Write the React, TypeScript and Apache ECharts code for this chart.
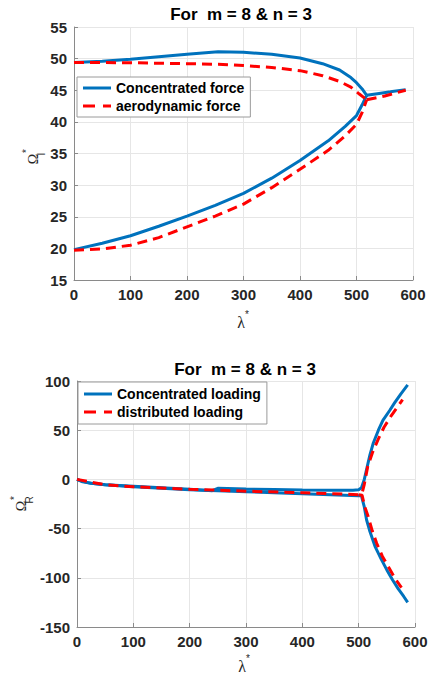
import React, { useEffect, useRef } from "react";
import * as echarts from "echarts";

// ---------- data (top chart: imaginary part) ----------
const topTitle = "For  m = 8 & n = 3";
const bottomTitle = "For  m = 8 & n = 3";
const topLegend = ["Concentrated force", "aerodynamic force"];
const bottomLegend = ["Concentrated loading", "distributed loading"];

const concUpper: [number, number][] = [
  [0, 49.4], [50, 49.6], [100, 49.9], [150, 50.3], [200, 50.7], [255, 51.1],
  [300, 51.0], [350, 50.7], [400, 50.1], [440, 49.2], [470, 48.2], [490, 47.0],
  [500, 46.2], [510, 45.2], [518, 44.2],
];
const concLower: [number, number][] = [
  [0, 19.8], [50, 20.8], [100, 22.0], [150, 23.5], [200, 25.1], [250, 26.8],
  [300, 28.7], [350, 31.1], [400, 33.9], [450, 37.0], [480, 39.3], [500, 41.0],
  [510, 42.7], [518, 44.2],
];
const concMerged: [number, number][] = [
  [518, 44.2], [540, 44.5], [560, 44.75], [587, 45.1],
];
const aeroUpper: [number, number][] = [
  [0, 49.4], [100, 49.35], [200, 49.2], [255, 49.1], [300, 48.9], [350, 48.6],
  [400, 48.1], [440, 47.3], [470, 46.4], [490, 45.5], [505, 44.4], [518, 43.5],
];
const aeroLower: [number, number][] = [
  [0, 19.7], [50, 19.9], [100, 20.5], [150, 21.7], [200, 23.4], [250, 25.1],
  [300, 27.0], [350, 29.6], [400, 32.5], [450, 35.5], [480, 37.8], [500, 39.6],
  [510, 41.5], [518, 43.5],
];
const aeroMerged: [number, number][] = [
  [518, 43.5], [550, 44.1], [587, 45.0],
];

// ---------- data (bottom chart: real part) ----------
const concBranchA: [number, number][] = [
  [0, 0], [10, -2], [25, -4], [50, -5.5], [100, -7], [150, -8.5], [200, -10],
  [240, -11.5], [250, -9], [300, -9.8], [350, -10.3], [400, -10.8], [450, -11],
  [490, -11], [500, -10.5], [505, -8.5], [510, 0], [514, 10], [520, 25],
  [526, 37], [535, 50], [543, 60], [555, 70], [564, 78], [575, 87], [587, 96],
];
const concBranchB: [number, number][] = [
  [0, 0], [10, -2.5], [25, -4], [50, -5.5], [100, -7.5], [150, -9], [200, -10.5],
  [250, -11.5], [300, -12.5], [350, -13.5], [400, -14.5], [450, -15.5],
  [500, -16.5], [505, -17], [510, -28], [514, -41], [520, -53], [529, -68],
  [540, -81], [550, -92], [560, -102], [570, -111], [580, -119], [587, -125],
];
const distBranchA: [number, number][] = [
  [0, 0], [50, -5.5], [100, -7.5], [200, -10], [250, -11], [300, -12],
  [400, -13.5], [500, -15.5], [506, -14], [510, -5], [516, 13], [525, 28],
  [534, 40], [545, 53], [557, 64], [568, 73], [578, 81],
];
const distBranchB: [number, number][] = [
  [500, -15.5], [506, -16], [511, -28], [517, -38], [524, -52], [532, -65],
  [542, -78], [553, -89], [565, -101], [576, -110],
];

const xTicks = { min: 0, max: 600, interval: 100 };
const yTopTicks = { min: 15, max: 55, interval: 5 };
const yBottomTicks = { min: -150, max: 100, interval: 50 };

const BLUE = "#0072BD";
const RED = "#FF0000";
const SANS = "Liberation Sans, Arial, sans-serif";
const SERIF = "Liberation Serif, DejaVu Serif, serif";
const SOLID_ICON = "path://M0 0h28v3h-28z";
const DASH_ICON = "path://M0 0h12v3h-12zM20 0h8v3h-8z";

function App() {
  const ref = useRef<HTMLDivElement>(null);
  useEffect(() => {
    if (!ref.current) return;
    const chart = echarts.init(ref.current, null, { renderer: "svg" });

    const axisLabel = {
      fontFamily: SANS,
      fontWeight: "bold" as const,
      fontSize: 15,
      color: "#262626",
    };
    const splitLine = { show: true, lineStyle: { color: "#e6e6e6", width: 1 } };
    const axisLine = { show: true, onZero: false, lineStyle: { color: "#8a8a8a", width: 1 } };
    const axisTick = { show: true, inside: true, length: 4, lineStyle: { color: "#8a8a8a" } };

    const xAxisBase = {
      type: "value" as const,
      ...xTicks,
      axisLabel: { ...axisLabel, margin: 7 },
      splitLine,
      axisLine,
      axisTick,
    };
    const yAxisBase = {
      type: "value" as const,
      axisLabel: { ...axisLabel, margin: 7 },
      splitLine,
      axisLine,
      axisTick,
    };

    const solid = (name: string, data: [number, number][], xi: number) => ({
      type: "line" as const,
      name,
      data,
      xAxisIndex: xi,
      yAxisIndex: xi,
      showSymbol: false,
      symbol: "none",
      lineStyle: { color: BLUE, width: 3 },
      itemStyle: { color: BLUE },
      z: 2,
    });
    const dashed = (name: string, data: [number, number][], xi: number) => ({
      type: "line" as const,
      name,
      data,
      xAxisIndex: xi,
      yAxisIndex: xi,
      showSymbol: false,
      symbol: "none",
      lineStyle: { color: RED, width: 3, type: [10, 6] },
      itemStyle: { color: RED },
      z: 3,
    });

    const legendBase = {
      orient: "vertical" as const,
      itemWidth: 28,
      itemHeight: 3,
      itemGap: 4,
      backgroundColor: "#ffffff",
      borderColor: "#9a9a9a",
      borderWidth: 1,
      borderRadius: 0,
      textStyle: {
        fontFamily: SANS,
        fontWeight: "bold" as const,
        fontSize: 14,
        color: "#000",
        lineHeight: 14,
      },
      selectedMode: false,
    };

    const txt = (
      text: string,
      x: number,
      y: number,
      font: string,
      rotation = 0,
      fill = "#262626"
    ) => ({
      type: "text" as const,
      x,
      y,
      rotation,
      silent: true,
      style: { text, font, fill, textAlign: "center", textVerticalAlign: "middle" },
    });

    chart.setOption({
      animation: false,
      backgroundColor: "#ffffff",
      grid: [
        { left: 74, top: 27, width: 339, height: 253 },
        { left: 77, top: 381, width: 338, height: 246 },
      ],
      xAxis: [
        { ...xAxisBase, gridIndex: 0 },
        { ...xAxisBase, gridIndex: 1 },
      ],
      yAxis: [
        { ...yAxisBase, ...yTopTicks, gridIndex: 0 },
        { ...yAxisBase, ...yBottomTicks, gridIndex: 1 },
      ],
      legend: [
        {
          ...legendBase,
          data: [
            { name: topLegend[0], icon: SOLID_ICON },
            { name: topLegend[1], icon: DASH_ICON },
          ],
          left: 77,
          top: 77,
          padding: [4, 6, 4, 6],
        },
        {
          ...legendBase,
          data: [
            { name: bottomLegend[0], icon: SOLID_ICON },
            { name: bottomLegend[1], icon: DASH_ICON },
          ],
          left: 78,
          top: 382,
          padding: [5, 6, 5, 6],
        },
      ],
      series: [
        solid(topLegend[0], concUpper, 0),
        solid(topLegend[0], concLower, 0),
        solid(topLegend[0], concMerged, 0),
        dashed(topLegend[1], aeroUpper, 0),
        dashed(topLegend[1], aeroLower, 0),
        dashed(topLegend[1], aeroMerged, 0),
        solid(bottomLegend[0], concBranchA, 1),
        solid(bottomLegend[0], concBranchB, 1),
        dashed(bottomLegend[1], distBranchA, 1),
        dashed(bottomLegend[1], distBranchB, 1),
      ],
      graphic: [
        txt(topTitle, 241, 14, `bold 17px ${SANS}`, 0, "#000"),
        txt(bottomTitle, 245, 369, `bold 17px ${SANS}`, 0, "#000"),
        // x axis names
        txt("λ", 241, 322, `16px ${SERIF}`),
        txt("*", 247, 314, `10px ${SANS}`),
        txt("λ", 242, 666, `16px ${SERIF}`),
        txt("*", 248, 658, `10px ${SANS}`),
        // y axis names (rotated)
        txt("Ω", 33, 159, `14px ${SERIF}`, Math.PI / 2),
        txt("*", 26, 151, `10px ${SANS}`, Math.PI / 2),
        txt("I", 41, 154, `10px ${SANS}`, Math.PI / 2),
        txt("Ω", 21, 506, `14px ${SERIF}`, Math.PI / 2),
        txt("*", 14, 498, `10px ${SANS}`, Math.PI / 2),
        txt("R", 29, 500, `10px ${SANS}`, Math.PI / 2),
      ],
    });
    return () => chart.dispose();
  }, []);
  return (
    <div
      ref={ref}
      style={{ position: "fixed", left: 0, top: 0, width: 431, height: 674, background: "#fff" }}
    />
  );
}

export default App;
